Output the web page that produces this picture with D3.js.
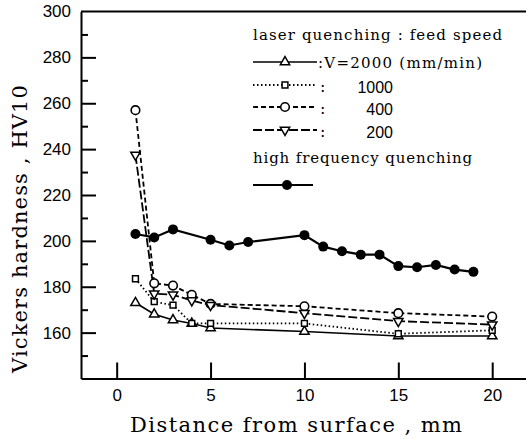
<!DOCTYPE html>
<html>
<head>
<meta charset="utf-8">
<script src="https://cdn.jsdelivr.net/npm/d3@7"></script>
<style>
  body { margin: 0; background: #fff; }
  svg { display: block; }
</style>
</head>
<body>
<div id="chart"></div>
<script>
// distance from surface (mm) for the laser runs
const depth = [1, 2, 3, 4, 5, 10, 15, 20];
// hardness HV10, laser quenching, by feed speed
const v2000 = [173, 168, 165.5, 164, 162, 160.5, 158.5, 158.5];
const v1000 = [183.5, 173.5, 172, 164, 164, 164, 159.5, 161];
const v400 = [257, 181.5, 180.5, 176.5, 172.5, 171.5, 168.5, 167];
const v200 = [237.5, 177, 176.5, 174, 172, 168.5, 165, 163.5];
// high frequency quenching
const hfDepth = [1, 2, 3, 5, 6, 7, 10, 11, 12, 13, 14, 15, 16, 17, 18, 19];
const hfValues = [203, 201.5, 205, 200.5, 198, 199.5, 202.5, 197.5, 195.5, 194, 194, 189, 188.5, 189.5, 187.5, 186.5];

const xTicks = [0, 5, 10, 15, 20];
const yTicks = [160, 180, 200, 220, 240, 260, 280, 300];
const yMinor = [150, 170, 190, 210, 230, 250, 270, 290];
const legendSpeeds = ["1000", "400", "200"];

const W = 526, H = 439;
const svg = d3.select("#chart").append("svg")
  .attr("width", W).attr("height", H);

const x = d3.scaleLinear().domain([-1.9, 21.8]).range([81, 526]);
const y = d3.scaleLinear().domain([140, 300]).range([378.5, 11.5]);

const sansFont = "'Liberation Sans', Arial, sans-serif";
const serifFont = "'DejaVu Serif', 'Liberation Serif', serif";

// y axis, ticks pointing in
const yAxis = svg.append("g").attr("transform", "translate(81,0)")
  .call(d3.axisLeft(y).tickValues(yTicks).tickSize(-15).tickSizeOuter(0).tickPadding(10));
svg.append("g").attr("transform", "translate(81,0)")
  .call(d3.axisLeft(y).tickValues(yMinor).tickSize(-7).tickSizeOuter(0).tickFormat(""))
  .select(".domain").remove();

// x axis
const xAxis = svg.append("g").attr("transform", "translate(0,378.5)")
  .call(d3.axisBottom(x).tickValues(xTicks).tickSize(-16).tickSizeOuter(0).tickPadding(10));

// top frame line
svg.append("line")
  .attr("x1", 81).attr("x2", W).attr("y1", y(300)).attr("y2", y(300))
  .attr("stroke", "#000").attr("stroke-width", 2);

svg.selectAll(".domain").attr("stroke-width", 2);
svg.selectAll(".tick line").attr("stroke-width", 2);
svg.selectAll(".tick text")
  .attr("font-family", sansFont).attr("font-size", 17).attr("fill", "#000");
// 300 label sits on the frame, not on a tick
yAxis.selectAll(".tick").filter(d => d === 300).select("line").remove();

// axis titles
svg.append("text")
  .attr("x", 296).attr("y", 432)
  .attr("text-anchor", "middle")
  .attr("font-family", serifFont).attr("font-size", 21)
  .attr("textLength", 332).attr("lengthAdjust", "spacing")
  .text("Distance from surface  ,  mm");

svg.append("text")
  .attr("transform", "translate(27,229) rotate(-90)")
  .attr("text-anchor", "middle")
  .attr("font-family", serifFont).attr("font-size", 21)
  .attr("textLength", 288).attr("lengthAdjust", "spacing")
  .text("Vickers hardness , HV10");

// series styles
const tri = d3.symbol().type(d3.symbolTriangle).size(38)();
const sq = d3.symbol().type(d3.symbolSquare).size(34)();

const series = [
  { vals: v2000, dash: null, marker: "triUp" },
  { vals: v1000, dash: "1.5,2.5", marker: "square" },
  { vals: v400, dash: "5,3", marker: "circle" },
  { vals: v200, dash: "9,3", marker: "triDown" }
];

function drawMarker(g, kind, cx, cy) {
  if (kind === "circle") {
    g.append("circle").attr("cx", cx).attr("cy", cy).attr("r", 4.3)
      .attr("fill", "#fff").attr("stroke", "#000").attr("stroke-width", 1.6);
  } else if (kind === "dot") {
    g.append("circle").attr("cx", cx).attr("cy", cy).attr("r", 5)
      .attr("fill", "#000");
  } else {
    let p = kind === "square" ? sq : tri;
    let rot = kind === "triDown" ? " rotate(180)" : "";
    g.append("path").attr("d", p)
      .attr("transform", `translate(${cx},${cy})${rot}`)
      .attr("fill", "#fff").attr("stroke", "#000").attr("stroke-width", 1.5);
  }
}

const line = d3.line().x(d => x(d[0])).y(d => y(d[1]));

series.forEach(s => {
  svg.append("path")
    .datum(depth.map((d, i) => [d, s.vals[i]]))
    .attr("d", line)
    .attr("fill", "none").attr("stroke", "#000")
    .attr("stroke-width", s.dash ? 1.8 : 1.6)
    .attr("stroke-dasharray", s.dash);
});

svg.append("path")
  .datum(hfDepth.map((d, i) => [d, hfValues[i]]))
  .attr("d", line)
  .attr("fill", "none").attr("stroke", "#000").attr("stroke-width", 2.2);

const marks = svg.append("g");
series.forEach(s => {
  depth.forEach((d, i) => drawMarker(marks, s.marker, x(d), y(s.vals[i])));
});
hfDepth.forEach((d, i) => drawMarker(marks, "dot", x(d), y(hfValues[i])));

// legend
const lg = svg.append("g");
lg.append("text").attr("x", 253).attr("y", 40)
  .attr("font-family", serifFont).attr("font-size", 15)
  .attr("textLength", 249).attr("lengthAdjust", "spacing")
  .text("laser quenching : feed speed");

const rowY = [62, 85, 107, 130];
series.forEach((s, i) => {
  lg.append("line").attr("x1", 253).attr("x2", 317)
    .attr("y1", rowY[i]).attr("y2", rowY[i])
    .attr("stroke", "#000").attr("stroke-width", s.dash ? 1.8 : 1.6)
    .attr("stroke-dasharray", s.dash);
  drawMarker(lg, s.marker, 285, rowY[i]);
});

lg.append("text").attr("x", 318).attr("y", 68)
  .attr("font-family", serifFont).attr("font-size", 15)
  .attr("textLength", 164).attr("lengthAdjust", "spacing")
  .text(":V=2000  (mm/min)");

legendSpeeds.forEach((t, i) => {
  lg.append("text").attr("x", 320).attr("y", rowY[i + 1] + 7)
    .attr("font-family", serifFont).attr("font-size", 16).text(":");
  lg.append("text").attr("x", 393).attr("y", rowY[i + 1] + 8)
    .attr("text-anchor", "end")
    .attr("font-family", sansFont).attr("font-size", 16).text(t);
});

lg.append("text").attr("x", 253).attr("y", 163)
  .attr("font-family", serifFont).attr("font-size", 15)
  .attr("textLength", 219).attr("lengthAdjust", "spacing")
  .text("high  frequency  quenching");

lg.append("line").attr("x1", 253).attr("x2", 313)
  .attr("y1", 185).attr("y2", 185)
  .attr("stroke", "#000").attr("stroke-width", 2.2);
drawMarker(lg, "dot", 287, 185);
</script>
</body>
</html>
